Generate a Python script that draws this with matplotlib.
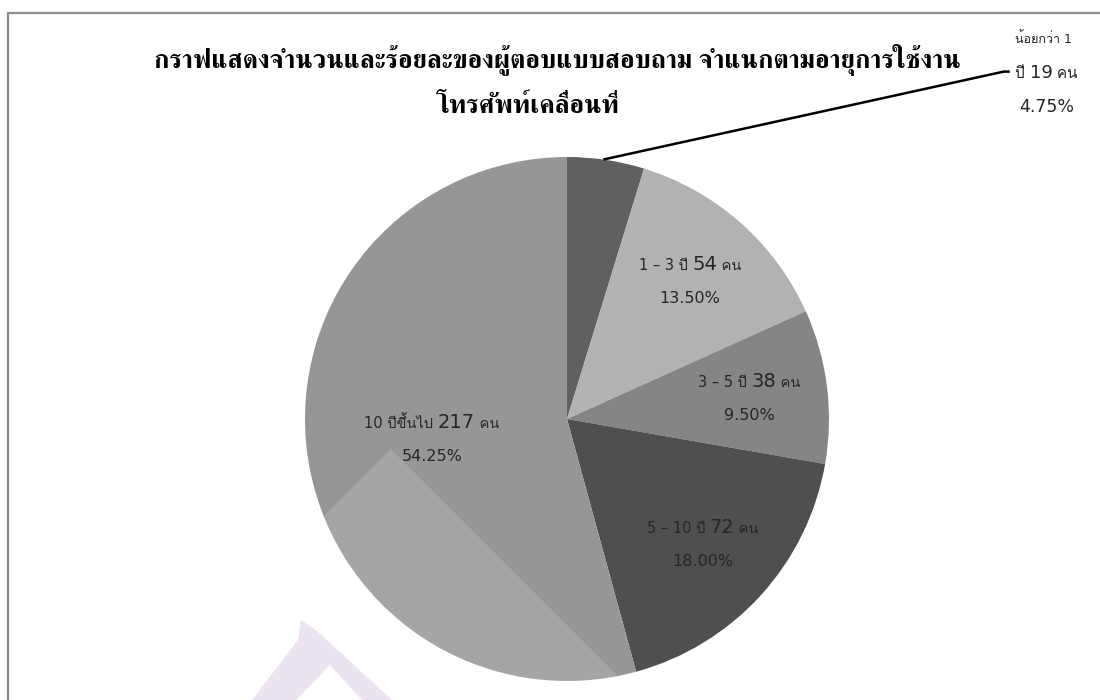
import matplotlib
matplotlib.use("Agg")
import numpy as np
import matplotlib.pyplot as plt
from matplotlib import font_manager
from matplotlib.transforms import IdentityTransform
from matplotlib.patches import Rectangle, Polygon

# --- data -----------------------------------------------------------------
categories = ["น้อยกว่า 1 ปี", "1 – 3 ปี", "3 – 5 ปี", "5 – 10 ปี", "10 ปีขึ้นไป"]
counts = [19, 54, 38, 72, 217]
percents = [4.75, 13.50, 9.50, 18.00, 54.25]
colors = ["#606060", "#b2b2b2", "#858585", "#4f4f4f", "#969696"]
title_lines = ["กราฟแสดงจำนวนและร้อยละของผู้ตอบแบบสอบถาม จำแนกตามอายุการใช้งาน",
               "โทรศัพท์เคลื่อนที่"]

installed = {f.name for f in font_manager.fontManager.ttflist}


def pick(cands):
    return [c for c in cands if c in installed]


sans = ["DejaVu Sans"] + pick(["Loma", "Garuda", "Tlwg Typist", "Noto Sans Thai"])[:1]
serif = pick(["Norasi", "FreeSerif", "Noto Serif Thai"])[:1] + ["DejaVu Serif"]

W, H = 1100, 700
fig = plt.figure(figsize=(W / 100, H / 100), dpi=100)
fig.patch.set_facecolor("white")

# pie centre (567, 419) px, radius 262 px
cx, cy, r = 567, 419, 262
ax = fig.add_axes([(cx - r) / W, (H - cy - r) / H, 2 * r / W, 2 * r / H])

ax.pie(percents, colors=colors, startangle=90, counterclock=False, radius=1,
       wedgeprops=dict(linewidth=0))
ax.set_xlim(-1, 1)
ax.set_ylim(-1, 1)
ax.axis("off")

# chart frame
fig.add_artist(Rectangle((7.5, -20), W + 40, H - 12.5 + 20, transform=IdentityTransform(),
                         fill=False, edgecolor="#8c8c8c", linewidth=1.6))

renderer = fig.canvas.get_renderer()


def rich_line(x, y, parts, color="#262626"):
    """parts: list of (text, size); centred at display x, baseline y."""
    texts = []
    for s, size in parts:
        t = fig.text(0, 0, s, fontsize=size, family=sans, color=color,
                     transform=IdentityTransform(), va="baseline", ha="left")
        texts.append(t)
    widths = [t.get_window_extent(renderer).width for t in texts]
    x0 = x - sum(widths) / 2
    for t, w in zip(texts, widths):
        t.set_position((x0, y))
        x0 += w


# slice labels
fracs = np.array(percents) / sum(percents)
mids = (np.cumsum(fracs) - fracs / 2) * 2 * np.pi
label_r = [None, 0.71, 0.70, 0.70, 0.52]
for i, (cat, n, p) in enumerate(zip(categories, counts, percents)):
    if i == 0:
        continue
    lx, ly = label_r[i] * np.sin(mids[i]), label_r[i] * np.cos(mids[i])
    px, py = ax.transData.transform((lx, ly))
    rich_line(px, py + 9, [(cat + " ", 10.5), (str(n), 14), (" คน", 10.5)])
    rich_line(px, py - 24, [(f"{p:.2f}%", 11.5)])

# outside label for the smallest slice with leader line
ex, ey = np.sin(mids[0] - 0.01), np.cos(mids[0] - 0.01)
ax.plot([ex, 1.667, 1.69], [ey, 1.326, 1.326], color="black", lw=1.8, clip_on=False,
        solid_capstyle="butt")
px, py = ax.transData.transform((1.83, 1.32))
rich_line(px - 3, py + 30, [("น้อยกว่า " + categories[0].split()[1], 9)])
rich_line(px, py - 5, [("ปี ", 11), (str(counts[0]), 13), (" คน", 11)])
rich_line(px, py - 39, [(f"{percents[0]:.2f}%", 12.5)])

# faint watermark overlay
fig.add_artist(Polygon([(391, H - 449), (391 - 320, H - 769), (391 + 320, H - 769)],
                       closed=True, transform=IdentityTransform(),
                       facecolor="white", alpha=0.15, edgecolor="none"))
fig.add_artist(Polygon([(301, H - 620), (318, H - 632), (392, H - 700), (362, H - 700),
                        (330, H - 665), (296, H - 700), (252, H - 700), (298, H - 640)],
                       closed=True, transform=IdentityTransform(),
                       facecolor="#ebe3f0", edgecolor="none"))

# title
fig.text(557 / W, 1 - 68 / H, title_lines[0], family=serif, fontsize=18.7,
         fontweight="bold", ha="center", va="baseline", color="black")
fig.text(528 / W, 1 - 113 / H, title_lines[1], family=serif, fontsize=18.7,
         fontweight="bold", ha="center", va="baseline", color="black")

fig.savefig("out.png", dpi=100)
